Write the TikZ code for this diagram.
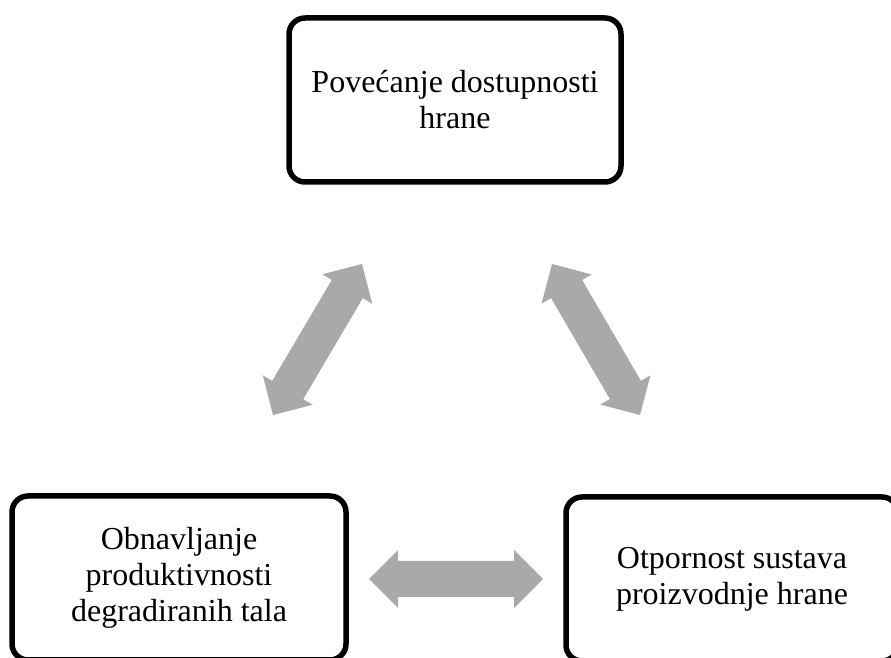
\documentclass[tikz,border=0pt]{standalone}
\usepackage{fontspec}
\setmainfont{Liberation Serif}
\usetikzlibrary{calc}
\definecolor{arrowgray}{HTML}{A9A9A9}
\tikzset{
  box/.style={draw=black, line width=5.5pt, rounded corners=16pt, align=center,
    font=\fontsize{32}{36}\selectfont, inner sep=0pt},
  arrowfill/.style={fill=arrowgray, draw=none}
}
% double block arrow between two named coordinates
\newcommand\dblarrow[2]{%
  \fill[arrowfill] (#1)
    -- ($(#1)!29pt!(#2)!29pt!90:(#2)$)
    -- ($(#1)!29pt!(#2)!18pt!90:(#2)$)
    -- ($(#2)!29pt!(#1)!18pt!-90:(#1)$)
    -- ($(#2)!29pt!(#1)!29pt!-90:(#1)$)
    -- (#2)
    -- ($(#2)!29pt!(#1)!29pt!90:(#1)$)
    -- ($(#2)!29pt!(#1)!18pt!90:(#1)$)
    -- ($(#1)!29pt!(#2)!18pt!-90:(#2)$)
    -- ($(#1)!29pt!(#2)!29pt!-90:(#2)$)
    -- cycle;}
\begin{document}
\begin{tikzpicture}[x=1pt,y=1pt]
\useasboundingbox (0,0) rectangle (891,658);
\clip (0,0) rectangle (891,658);
\fill[white] (0,0) rectangle (891,658);
\node[box, minimum width=332pt, minimum height=164pt] (top) at (455,558)
  {Povećanje dostupnosti\\hrane};
\node[box, minimum width=334pt, minimum height=164pt] (left) at (179,80)
  {Obnavljanje\\produktivnosti\\degradiranih tala};
\node[box, minimum width=332pt, minimum height=164pt] (right) at (732,79)
  {Otpornost sustava\\proizvodnje hrane};
\coordinate (la) at (273,243);
\coordinate (lb) at (362,394);
\coordinate (ra) at (552,394);
\coordinate (rb) at (640,243);
\coordinate (ha) at (369,79);
\coordinate (hb) at (543,79);
\dblarrow{la}{lb}
\dblarrow{ra}{rb}
\dblarrow{ha}{hb}
\end{tikzpicture}
\end{document}
